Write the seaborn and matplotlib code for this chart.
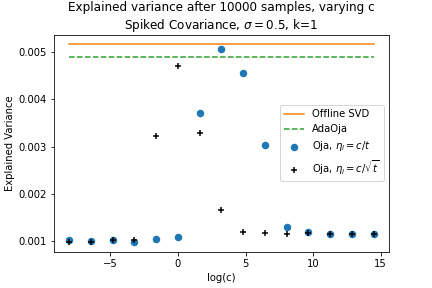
# Explained variance vs log(c) for Oja step sizes, with offline SVD and AdaOja references
import numpy as np
import pandas as pd
import matplotlib
matplotlib.use("Agg")
import matplotlib.pyplot as plt
import seaborn as sns

# c = 5^k, k = -5..9
log_c = [-8.05, -6.44, -4.83, -3.22, -1.61, 0.0, 1.61, 3.22, 4.83, 6.44, 8.05, 9.66, 11.27, 12.87, 14.48]
oja_c_over_t = [0.00102, 0.00100, 0.00102, 0.00099, 0.00104, 0.00108, 0.00372, 0.00507,
                0.00455, 0.00303, 0.00130, 0.00119, 0.00116, 0.00115, 0.00115]
oja_c_over_sqrt_t = [0.00099, 0.00098, 0.00102, 0.00103, 0.00323, 0.00470, 0.00329, 0.00165,
                     0.00120, 0.00117, 0.00115, 0.00117, 0.00116, 0.00115, 0.00115]
offline_svd = 0.00516
adaoja = 0.00490

df = pd.DataFrame({"logc": log_c,
                   "svd": [offline_svd] * len(log_c),
                   "ada": [adaoja] * len(log_c),
                   "oja_t": oja_c_over_t,
                   "oja_sqrt": oja_c_over_sqrt_t})

fig, ax = plt.subplots(figsize=(6, 4), dpi=72)
sns.lineplot(data=df, x="logc", y="svd", color="tab:orange", label="Offline SVD", ax=ax)
sns.lineplot(data=df, x="logc", y="ada", color="tab:green", linestyle="--", label="AdaOja", ax=ax)
sns.scatterplot(data=df, x="logc", y="oja_t", color="tab:blue", s=36, linewidth=1.5,
                edgecolor="tab:blue", label=r"Oja, $\eta_i = c/t$", ax=ax)
sns.scatterplot(data=df, x="logc", y="oja_sqrt", color="black", marker="+", s=36, linewidth=1.5,
                label=r"Oja, $\eta_i = c/\sqrt{t}$", ax=ax)

ax.set_title("Explained variance after 10000 samples, varying c\n"
             r"Spiked Covariance, $\sigma = 0.5$, k=1")
ax.set_xlabel("log(c)")
ax.set_ylabel("Explained Variance")
ax.legend(loc="center right")

fig.subplots_adjust(left=0.125, right=0.9, top=0.88, bottom=0.125)
fig.savefig("out.png", dpi=72)
